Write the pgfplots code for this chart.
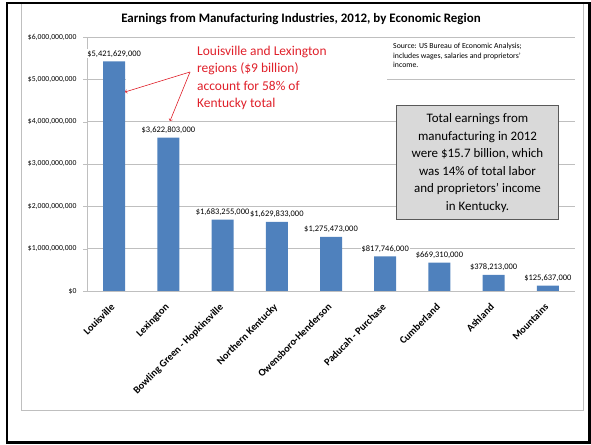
\documentclass[border=0pt]{standalone}
\usepackage{fontspec}
\setmainfont{Carlito}
\usepackage{pgfplots}
\pgfplotsset{compat=1.18}
\definecolor{barblue}{HTML}{4F81BD}
\definecolor{annred}{HTML}{E0202A}
\definecolor{gridgray}{HTML}{BFBFBF}
\definecolor{boxfill}{HTML}{D9D9D9}
\definecolor{boxedge}{HTML}{595959}
\begin{document}
\begin{tikzpicture}[x=1bp,y=1bp]
\useasboundingbox (0,0) rectangle (591,445);
% inner chart border
\draw[gridgray, line width=1bp] (21,34.5) rectangle (583,442);
% outer frame
\draw[line width=2.5bp] (7,2.5) rectangle (589.5,442);
\begin{axis}[
  at={(87bp,154bp)}, anchor=south west,
  scale only axis, width=488bp, height=254bp,
  ybar, bar width=22bp,
  xmin=-0.5, xmax=8.5, ymin=0, ymax=6000000000,
  scaled y ticks=false,
  axis x line*=bottom, axis y line*=left,
  axis line style={gridgray},
  ymajorgrids, grid style={gridgray, line width=0.6bp},
  ytick={0,1000000000,2000000000,3000000000,4000000000,5000000000,6000000000},
  yticklabels={{\$0},{\$1,000,000,000},{\$2,000,000,000},{\$3,000,000,000},{\$4,000,000,000},{\$5,000,000,000},{\$6,000,000,000}},
  yticklabel style={font=\fontsize{7.7}{9}\selectfont, xshift=-3bp},
  ytick style={gridgray}, tick align=outside, major tick length=4bp,
  xtick={0,1,2,3,4,5,6,7,8},
  xticklabels={Louisville,Lexington,Bowling Green - Hopkinsville,Northern Kentucky,Owensboro-Henderson,Paducah - Purchase,Cumberland,Ashland,Mountains},
  xticklabel style={font=\bfseries\fontsize{10.3}{12}\selectfont, xshift=-3.9bp, yshift=-7.6bp, rotate=45, anchor=north east, inner sep=0pt},
  x tick style={draw=none},
  extra x ticks={-0.5,0.5,1.5,2.5,3.5,4.5,5.5,6.5,7.5,8.5},
  extra x tick labels={},
  extra x tick style={grid=none, tick style={draw=gridgray}, major tick length=4bp},
  nodes near coords, point meta=explicit symbolic,
  nodes near coords style={font=\fontsize{8.5}{10}\selectfont, fill=white, inner sep=1bp, anchor=south, yshift=3bp},
  clip=false,
]
\addplot[fill=barblue, draw=none] coordinates {
  (0,5421629000) [\$5,421,629,000]
  (1,3622803000) [\$3,622,803,000]
  (2,1683255000) [\$1,683,255,000]
  (3,1629833000) [\$1,629,833,000]
  (4,1275473000) [\$1,275,473,000]
  (5,817746000) [\$817,746,000]
  (6,669310000) [\$669,310,000]
  (7,378213000) [\$378,213,000]
  (8,125637000) [\$125,637,000]
};
\end{axis}
% title
\node[font=\bfseries\fontsize{13}{15}\selectfont] at (301,426) {Earnings from Manufacturing Industries, 2012, by Economic Region};
% red annotation
\fill[white] (126,330) rectangle (387,384);
\node[annred, anchor=north west, align=left, inner sep=0pt, font=\fontsize{13.5}{17.5}\selectfont] at (197,399) {Louisville and Lexington\\regions (\$9 billion)\\account for 58\% of\\Kentucky total};
\draw[annred, line width=0.6bp, ->] (190,373) -- (125,353);
\draw[annred, line width=0.6bp, ->] (190,373) -- (170,324);
% source
\node[anchor=north west, align=left, inner sep=0pt, font=\fontsize{7.8}{9.5}\selectfont] at (393,402) {Source: US Bureau of Economic Analysis;\\includes wages, salaries and proprietors'\\income.};
% gray box
\node[draw=boxedge, fill=boxfill, line width=1bp, minimum width=162bp, minimum height=114bp, align=center, inner sep=0pt, font=\fontsize{13}{17.6}\selectfont] at (477.5,282) {Total earnings from\\manufacturing in 2012\\were \$15.7 billion, which\\was 14\% of total labor\\and proprietors’ income\\in Kentucky.};
\end{tikzpicture}
\end{document}
